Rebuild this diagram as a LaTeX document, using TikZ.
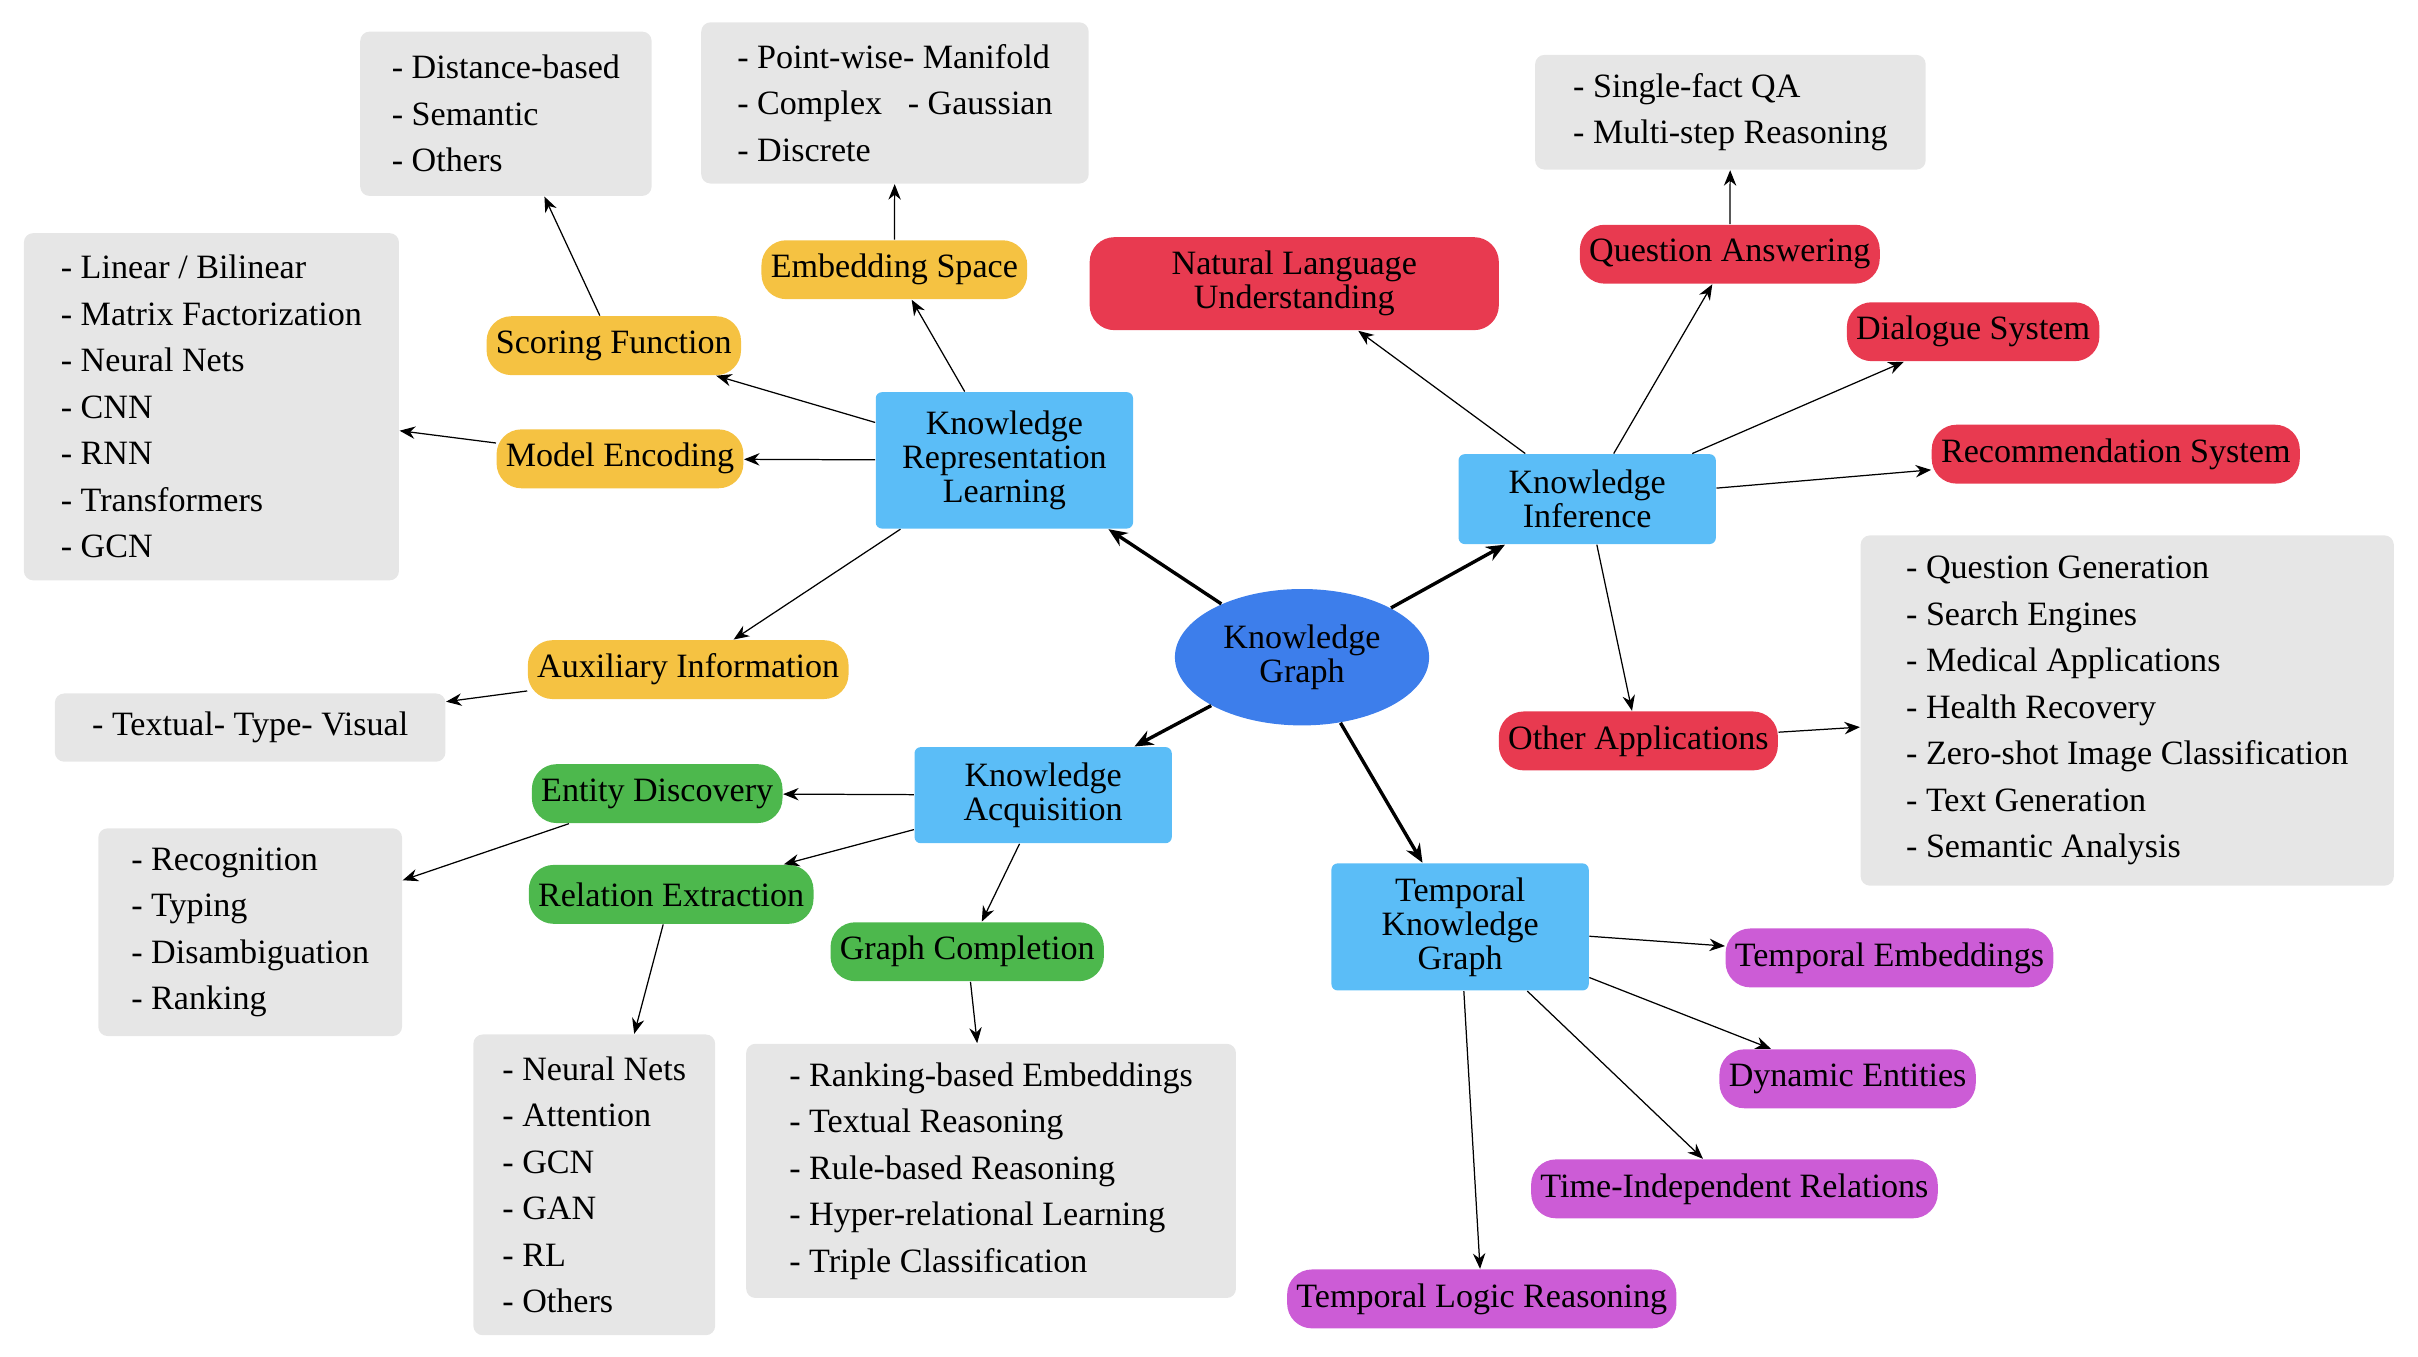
\documentclass[tikz,border=0pt]{standalone}
\usepackage{fontspec}
\setmainfont{Liberation Serif}
\usetikzlibrary{arrows.meta,shapes.geometric}
\definecolor{kgblue}{HTML}{3D7EEB}
\definecolor{mainblue}{HTML}{5BBDF7}
\definecolor{krlyellow}{HTML}{F5C242}
\definecolor{kired}{HTML}{E83A50}
\definecolor{kagreen}{HTML}{4DB84D}
\definecolor{tkgpurple}{HTML}{CC5CD6}
\definecolor{notegray}{HTML}{E6E6E6}
\tikzset{
  main/.style={draw=none, fill=mainblue, rounded corners=2pt, minimum width=83pt, align=center, font=\fontsize{11}{11}\selectfont},
  leaf/.style={draw=none, rounded corners=8pt, inner sep=3pt, minimum height=19pt, font=\fontsize{11}{11}\selectfont},
  note/.style={draw=none, fill=notegray, rounded corners=3pt, align=left, anchor=north west, inner sep=4pt, font=\fontsize{11}{15}\selectfont},
  link/.style={-{Stealth[length=5pt,width=4pt]}, thin},
  bold link/.style={-{Stealth[length=6pt,width=5pt]}, line width=1.1pt}
}
\begin{document}
\begin{tikzpicture}[x=0.5pt,y=-0.5pt]
  \useasboundingbox (0,0) rectangle (1560,875);

  % centre and the four branches
  \node[ellipse, fill=kgblue, minimum width=82pt, minimum height=44pt, align=center, font=\fontsize{11}{11}\selectfont] (kg) at (840,424) {Knowledge\\Graph};
  \node[main, minimum height=44pt] (krl) at (648,297) {Knowledge\\Representation\\Learning};
  \node[main, minimum height=29pt] (ki) at (1024,322) {Knowledge\\Inference};
  \node[main, minimum height=31pt] (ka) at (673,513) {Knowledge\\Acquisition};
  \node[main, minimum height=41pt] (tkg) at (942,598) {Temporal\\Knowledge\\Graph};

  % representation learning
  \node[leaf, fill=krlyellow] (score) at (396,223) {Scoring Function};
  \node[leaf, fill=krlyellow] (space) at (577,174) {Embedding Space};
  \node[leaf, fill=krlyellow] (encode) at (400,296) {Model Encoding};
  \node[leaf, fill=krlyellow] (aux) at (444,432) {Auxiliary Information};
  \node[note, minimum width=94pt, minimum height=53pt] (scorenote) at (232,20) {- Distance-based\\- Semantic\\- Others};
  \node[note, minimum width=125pt, minimum height=52pt] (spacenote) at (452,14) {- Point-wise- Manifold\\- Complex\ \ \ - Gaussian\\- Discrete};
  \node[note, minimum width=121pt, minimum height=112pt] (encodenote) at (15,150) {- Linear / Bilinear\\- Matrix Factorization\\- Neural Nets\\- CNN\\- RNN\\- Transformers\\- GCN};
  \node[note, minimum width=126pt, minimum height=22pt] (auxnote) at (35,447) {- Textual- Type- Visual};

  % inference
  \node[leaf, fill=kired, minimum width=132pt, minimum height=30pt, align=center] (nlu) at (835,183) {Natural Language\\Understanding};
  \node[leaf, fill=kired] (qa) at (1116,164) {Question Answering};
  \node[leaf, fill=kired] (dialog) at (1273,214) {Dialogue System};
  \node[leaf, fill=kired] (recom) at (1365,293) {Recommendation System};
  \node[leaf, fill=kired] (other) at (1057,478) {Other Applications};
  \node[note, minimum width=126pt, minimum height=37pt] (qanote) at (990,35) {- Single-fact QA\\- Multi-step Reasoning};
  \node[note, minimum width=172pt, minimum height=113pt] (othernote) at (1200,345) {- Question Generation\\- Search Engines\\- Medical Applications\\- Health Recovery\\- Zero-shot Image Classification\\- Text Generation\\- Semantic Analysis};

  % acquisition
  \node[leaf, fill=kagreen] (entity) at (424,512) {Entity Discovery};
  \node[leaf, fill=kagreen] (rel) at (433,577) {Relation Extraction};
  \node[leaf, fill=kagreen] (compl) at (624,614) {Graph Completion};
  \node[note, minimum width=98pt, minimum height=67pt] (entitynote) at (63,534) {- Recognition\\- Typing\\- Disambiguation\\- Ranking};
  \node[note, minimum width=78pt, minimum height=97pt] (relnote) at (305,667) {- Neural Nets\\- Attention\\- GCN\\- GAN\\- RL\\- Others};
  \node[note, minimum width=158pt, minimum height=82pt] (complnote) at (481,673) {- Ranking-based Embeddings\\- Textual Reasoning\\- Rule-based Reasoning\\- Hyper-relational Learning\\- Triple Classification};

  % temporal
  \node[leaf, fill=tkgpurple] (temb) at (1219,618) {Temporal Embeddings};
  \node[leaf, fill=tkgpurple] (dyn) at (1192,696) {Dynamic Entities};
  \node[leaf, fill=tkgpurple] (tir) at (1119,767) {Time-Independent Relations};
  \node[leaf, fill=tkgpurple] (tlr) at (956,838) {Temporal Logic Reasoning};

  % connectors
  \draw[bold link] (kg) -- (krl);
  \draw[bold link] (kg) -- (ki);
  \draw[bold link] (kg) -- (ka);
  \draw[bold link] (kg) -- (tkg);
  \foreach \t in {score,space,encode,aux} \draw[link] (krl) -- (\t);
  \draw[link] (score) -- (scorenote);
  \draw[link] (space) -- (spacenote);
  \draw[link] (encode) -- (encodenote);
  \draw[link] (aux) -- (auxnote);
  \foreach \t in {nlu,qa,dialog,recom,other} \draw[link] (ki) -- (\t);
  \draw[link] (qa) -- (qanote);
  \draw[link] (other) -- (othernote);
  \foreach \t in {entity,rel,compl} \draw[link] (ka) -- (\t);
  \draw[link] (entity) -- (entitynote);
  \draw[link] (rel) -- (relnote);
  \draw[link] (compl) -- (complnote);
  \foreach \t in {temb,dyn,tir,tlr} \draw[link] (tkg) -- (\t);
\end{tikzpicture}
\end{document}
